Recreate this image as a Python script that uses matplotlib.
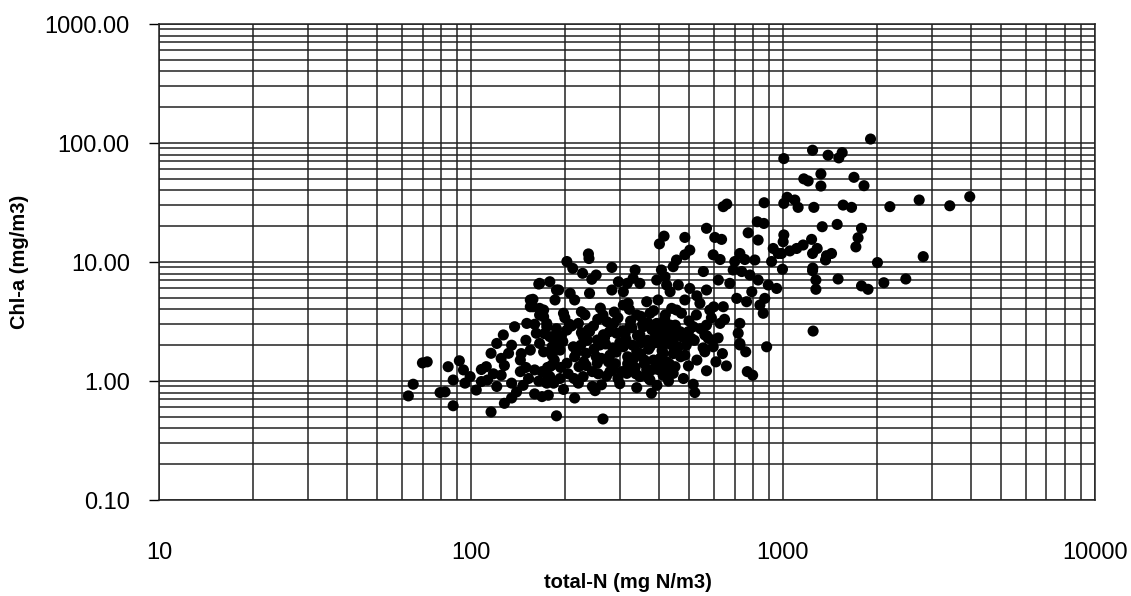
import matplotlib
matplotlib.use("Agg")
import matplotlib.pyplot as plt
from matplotlib.ticker import LogLocator, FixedLocator, FixedFormatter, NullFormatter

plt.rcParams['font.family'] = ['Liberation Sans', 'DejaVu Sans']

# total-N (mg N/m3) and Chl-a (mg/m3)
# high-N lakes (right side of the cloud)
tn_high = [1910, 1245, 1396, 1549, 1511, 1007, 1324, 1167, 1205, 1690, 1820, 1324,
           1032, 1092, 1007, 1119, 1257, 1560, 1660, 2203, 2735, 3428, 3973, 1337,
           1493, 1787, 1007, 1742, 1002, 1236, 1161, 1107, 1053, 1288, 1245, 1380,
           1432, 1714, 990, 2010, 2818, 1247, 997, 1245, 1276, 1276, 1503, 1787,
           1875, 2107, 2478, 1370, 1250]
chl_high = [108, 87, 79, 83, 75, 74, 55, 50, 48, 51.5, 43.8, 43.5,
            35, 33.2, 31.1, 28.8, 28.8, 30.1, 28.8, 29.2, 33.2, 29.7, 35.4, 19.8,
            20.7, 19.2, 16.9, 16.0, 14.8, 15.5, 13.9, 13.0, 12.4, 13.0, 11.8, 11.3,
            11.8, 13.4, 11.8, 9.9, 11.1, 8.9, 8.7, 8.45, 7.06, 5.9, 7.2, 6.3,
            5.9, 6.7, 7.2, 10.4, 2.63]

# low-N lakes (left part of the cloud)
tn_low = [72.4, 69.9, 65.3, 63, 84.5, 91.8, 94.6, 99.4, 87.7, 95.7, 104, 82.6,
          79.6, 87.7, 108, 113, 112, 116, 121, 127, 138, 151, 125, 125,
          121, 116, 128, 135, 135, 144, 144, 132, 140, 147, 153, 160,
          155, 166, 162, 158, 166, 175, 182, 169, 175, 169, 188, 182,
          188, 155, 165, 158, 166, 155, 171, 191]
chl_low = [1.45, 1.42, 0.94, 0.75, 1.32, 1.48, 1.24, 1.09, 1.02, 0.96, 0.84, 0.81,
           0.80, 0.62, 0.99, 1.02, 1.32, 1.71, 2.07, 2.44, 2.86, 3.05, 1.55, 1.12,
           0.90, 0.55, 0.65, 0.72, 0.96, 1.20, 1.50, 1.71, 0.81, 0.92, 1.05, 1.24,
           1.82, 2.07, 2.52, 4.21, 3.59, 3.05, 1.94, 1.20, 0.96, 0.74, 0.51, 1.36,
           2.52, 4.8, 6.53, 4.86, 4.08, 4.21, 3.47, 5.82]

# middle of the cloud (200 - 1000 mg N/m3)
tn_mid = [265, 379, 177, 250, 262, 221, 184, 193, 179, 229, 279, 316,
          348, 375, 413, 445, 416, 402, 238, 239, 203, 212, 228, 252,
          244, 283, 297, 283, 336, 331, 348, 317, 308, 408, 394, 424,
          419, 179, 188, 186, 208, 215, 240, 171, 166, 198, 226, 265,
          308, 319, 366, 398, 440, 375, 340, 175, 186, 203, 221, 240,
          273, 293, 323, 357, 394, 429, 445, 171, 193, 213, 234, 259,
          279, 308, 340, 375, 413, 440, 179, 203, 222, 254, 285, 319,
          366, 403, 179, 229, 254,
          644, 661, 871, 828, 869, 569, 485, 605, 636, 774, 833, 931,
          966, 503, 485, 456, 598, 629, 728, 755, 701, 813, 920, 445,
          693, 738, 784, 556, 621, 833, 898, 955, 676, 462, 503, 569,
          435, 795, 711, 875, 765, 844, 644, 542, 485, 456, 583, 528,
          473, 865, 629, 728, 435, 569, 468, 516, 719, 562, 598, 435,
          503, 887, 728, 451,
          728, 760, 659, 569, 769, 800, 516, 522, 480, 498, 451, 419,
          424, 485, 462, 562, 598, 577, 509, 413]
chl_mid = [0.48, 0.79, 0.76, 0.83, 0.93, 0.96, 0.96, 1.05, 1.09, 1.09, 1.20, 1.16,
           1.09, 1.02, 1.12, 1.16, 16.5, 14.2, 11.7, 10.7, 10.1, 8.85, 8.04, 7.78,
           7.16, 9.0, 6.83, 5.82, 8.57, 7.3, 6.62, 6.62, 5.63, 8.57, 7.06, 6.41,
           7.52, 6.83, 5.82, 4.8, 5.46, 4.8, 5.46, 3.95, 6.62, 3.71, 3.82, 3.59,
           4.35, 4.5, 4.64, 4.8, 4.08, 3.71, 3.59, 2.86, 2.21, 2.68, 3.05, 2.6,
           3.15, 2.52, 2.86, 2.86, 3.05, 2.68, 2.21, 1.76, 1.82, 1.94, 1.71, 2.01,
           1.65, 1.94, 1.76, 1.94, 1.71, 2.01, 1.32, 1.41, 1.32, 1.41, 1.24, 1.32,
           1.24, 1.36, 2.36, 2.36, 2.21,
           29.2, 30.7, 31.5, 21.8, 21.1, 19.2, 16.1, 16.1, 15.5, 17.6, 15.3, 13.0,
           11.8, 12.6, 11.5, 10.4, 11.5, 10.5, 11.8, 10.5, 10.1, 10.4, 10.1, 9.14,
           8.57, 8.32, 7.78, 8.32, 7.06, 7.06, 6.41, 6.0, 6.62, 6.41, 6.0, 5.82,
           5.63, 5.63, 4.95, 4.95, 4.64, 4.35, 4.21, 4.5, 4.8, 3.95, 3.95, 3.59,
           3.71, 3.71, 3.05, 3.05, 2.95, 2.95, 2.6, 2.86, 2.52, 2.44, 2.21, 2.44,
           2.21, 1.94, 2.07, 1.94,
           2.01, 1.76, 1.34, 1.22, 1.20, 1.12, 0.94, 0.80, 1.05, 1.34, 1.32, 1.16,
           1.45, 1.65, 1.94, 1.76, 1.94, 2.28, 2.28, 2.07]

# the densest, overlapping part of the cloud (estimated)
tn_dense = [185, 195, 205, 210, 215, 225, 230, 238, 245, 248, 255, 262,
            268, 272, 278, 285, 290, 296, 300, 305, 312, 318, 325, 330,
            336, 342, 350, 355, 360, 368, 372, 380, 385, 392, 398, 405,
            410, 418, 425, 432, 438, 445, 200, 232, 260, 288, 322, 350,
            385, 420, 190, 176, 172, 245, 300, 340, 395, 430, 460, 470,
            490, 530, 500, 555, 620, 610, 640, 590, 530, 600, 650, 160,
            150, 145, 135, 128, 118, 108, 150, 165, 198, 215, 160,
            182, 197, 218, 236, 252, 270, 292, 314, 333, 352, 371, 390,
            412, 433, 455, 478, 188, 207, 226, 247, 266, 287, 307, 328,
            348, 369, 389, 409, 430, 452, 475, 498, 520, 545, 570, 176,
            194, 214, 234, 256, 276, 296, 318, 338, 360, 382, 404, 426]
chl_dense = [1.5, 2.4, 1.15, 2.9, 1.6, 2.0, 1.45, 2.7, 1.2, 1.85, 3.3, 1.55,
             2.3, 1.1, 2.6, 1.9, 1.4, 3.4, 2.1, 1.2, 2.5, 1.6, 3.2, 2.0,
             1.3, 2.4, 1.7, 3.0, 1.4, 2.2, 1.05, 2.7, 1.5, 2.1, 1.25, 2.5,
             1.8, 3.3, 2.3, 1.4, 2.9, 1.7, 3.4, 3.6, 4.1, 3.8, 4.0, 3.5,
             3.9, 3.6, 2.0, 1.3, 2.5, 0.9, 0.95, 0.88, 0.92, 1.0, 2.5, 1.6,
             2.0, 1.5, 3.2, 1.9, 2.3, 1.45, 1.7, 3.4, 5.2, 4.2, 3.3, 3.0,
             2.2, 1.7, 2.0, 1.35, 1.15, 1.25, 1.3, 1.0, 0.85, 0.72, 0.78,
             1.65, 2.15, 1.75, 2.2, 1.6, 2.05, 1.75, 2.25, 1.55, 2.1, 1.85, 2.35,
             1.95, 2.15, 1.85, 2.4, 2.75, 3.0, 2.55, 2.9, 2.45, 3.05, 2.65, 2.8,
             2.45, 3.1, 2.7, 2.9, 2.55, 2.95, 2.35, 2.6, 2.2, 2.75, 2.4, 1.1,
             1.3, 1.05, 1.35, 1.15, 1.45, 1.05, 1.4, 1.15, 1.5, 1.25, 1.55, 1.3]

tn = tn_high + tn_low + tn_mid + tn_dense
chl = chl_high + chl_low + chl_mid + chl_dense

y_ticks = [0.1, 1, 10, 100, 1000]
x_ticks = [10, 100, 1000, 10000]

fig = plt.figure(figsize=(11.31, 5.96), dpi=100)
ax = fig.add_axes([0.1406, 0.161, 0.8274, 0.7987])

ax.scatter(tn, chl, s=64, color='black', edgecolors='none', zorder=3)

ax.set_xscale('log')
ax.set_yscale('log')
ax.set_xlim(10, 10000)
ax.set_ylim(0.1, 1000)

ax.yaxis.set_major_locator(FixedLocator(y_ticks))
ax.yaxis.set_major_formatter(FixedFormatter(["%.2f" % v for v in y_ticks]))
ax.xaxis.set_major_locator(FixedLocator(x_ticks))
ax.xaxis.set_major_formatter(FixedFormatter([str(v) for v in x_ticks]))
for a in (ax.xaxis, ax.yaxis):
    a.set_minor_locator(LogLocator(base=10, subs=range(2, 10)))
    a.set_minor_formatter(NullFormatter())

ax.grid(True, which='both', color='#222222', linewidth=1.1)
ax.set_axisbelow(True)
ax.tick_params(which='minor', length=0)
ax.tick_params(axis='y', which='major', length=7, width=1, direction='out',
               labelsize=17, pad=14)
ax.tick_params(axis='x', which='major', length=0, labelsize=17, pad=30)

for sp in ax.spines.values():
    sp.set_color('#222222')
    sp.set_linewidth(1.1)

fig.text(0.555, 0.023, "total-N (mg N/m3)", ha='center', va='center',
         fontsize=14.5, fontweight='bold')
fig.text(0.017, 0.56, "Chl-a (mg/m3)", ha='center', va='center',
         rotation=90, fontsize=14.5, fontweight='bold')

fig.savefig("out.png", dpi=100, facecolor='white')
